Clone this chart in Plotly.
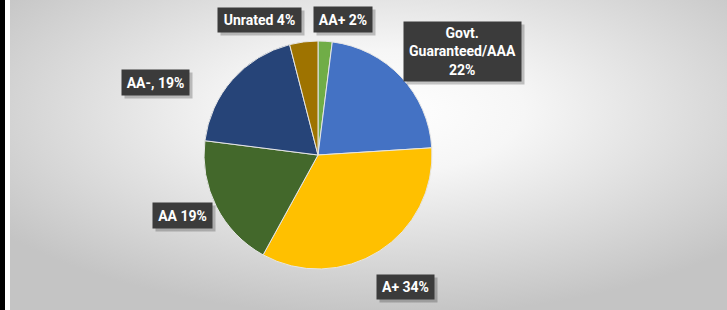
import base64
import plotly.graph_objects as go

# ---- data ----
categories = ["AA+", "Govt.<br>Guaranteed/AAA", "A+", "AA", "AA-", "Unrated"]
values = [2, 22, 34, 19, 19, 4]
separators = [" ", "<br>", " ", " ", ", ", " "]
colors = ["#70AD47", "#4472C4", "#FFC000", "#43682B", "#264478", "#9E7300"]

# label box layout (pixel centre x, centre y, width, height)
label_boxes = [
    (343, 19.5, 58, 25),
    (462.5, 51.5, 117, 59),
    (405.5, 287, 57, 24),
    (182.5, 215.5, 59, 25),
    (155.5, 82.5, 67, 25),
    (259.5, 20, 83, 24),
]

W, H = 727, 310

svg = f'''<svg xmlns="http://www.w3.org/2000/svg" width="717" height="310" viewBox="0 0 717 310" preserveAspectRatio="none">
<defs><radialGradient id="g" cx="0.52" cy="0.36" r="0.66" fx="0.52" fy="0.36">
<stop offset="0" stop-color="#ffffff"/><stop offset="0.3" stop-color="#f6f6f6"/>
<stop offset="1" stop-color="#c4c4c4"/></radialGradient></defs>
<rect x="0" y="0" width="717" height="310" fill="url(#g)"/></svg>'''
svg_uri = "data:image/svg+xml;base64," + base64.b64encode(svg.encode()).decode()

fig = go.Figure()
fig.add_trace(go.Pie(
    labels=[c.replace("<br>", " ") for c in categories],
    values=values,
    marker=dict(colors=colors, line=dict(color="#e6e6e6", width=1)),
    sort=False,
    direction="clockwise",
    rotation=0,
    textinfo="none",
    hoverinfo="label+percent",
    showlegend=False,
    domain=dict(x=[204 / W, 432 / W], y=[(H - 269) / H, (H - 41) / H]),
))

annotations = []
font = dict(family="Roboto, sans-serif", size=14, color="white")
for (cx, cy, w, h) in label_boxes:
    annotations.append(dict(
        x=cx / W, y=1 - cy / H, xref="paper", yref="paper", xanchor="center", yanchor="middle",
        text=" ", showarrow=False, width=w, height=h, borderpad=0,
        bgcolor="rgba(0,0,0,0.22)", xshift=3, yshift=-3, font=font,
    ))
for name, v, sep, (cx, cy, w, h) in zip(categories, values, separators, label_boxes):
    annotations.append(dict(
        x=cx / W, y=1 - cy / H, xref="paper", yref="paper", xanchor="center", yanchor="middle",
        text=f"<b>{name}{sep}{v}%</b>", showarrow=False, width=w, height=h, borderpad=0,
        bgcolor="#3b3b3b", font=font, align="center", valign="middle",
    ))

fig.update_layout(
    width=W, height=H,
    margin=dict(l=0, r=0, t=0, b=0),
    paper_bgcolor="white",
    plot_bgcolor="white",
    images=[dict(source=svg_uri, xref="paper", yref="paper", x=10 / W, y=1,
                 sizex=(W - 10) / W, sizey=1, xanchor="left", yanchor="top",
                 sizing="stretch", layer="below")],
    shapes=[dict(type="rect", xref="paper", yref="paper", x0=0, x1=5 / W, y0=0, y1=1,
                 fillcolor="black", line=dict(width=0), layer="above")],
    annotations=annotations,
)

fig.write_html("out.html", config={"displayModeBar": False},
               post_script="document.body.style.margin='0';document.body.style.overflow='hidden';")
